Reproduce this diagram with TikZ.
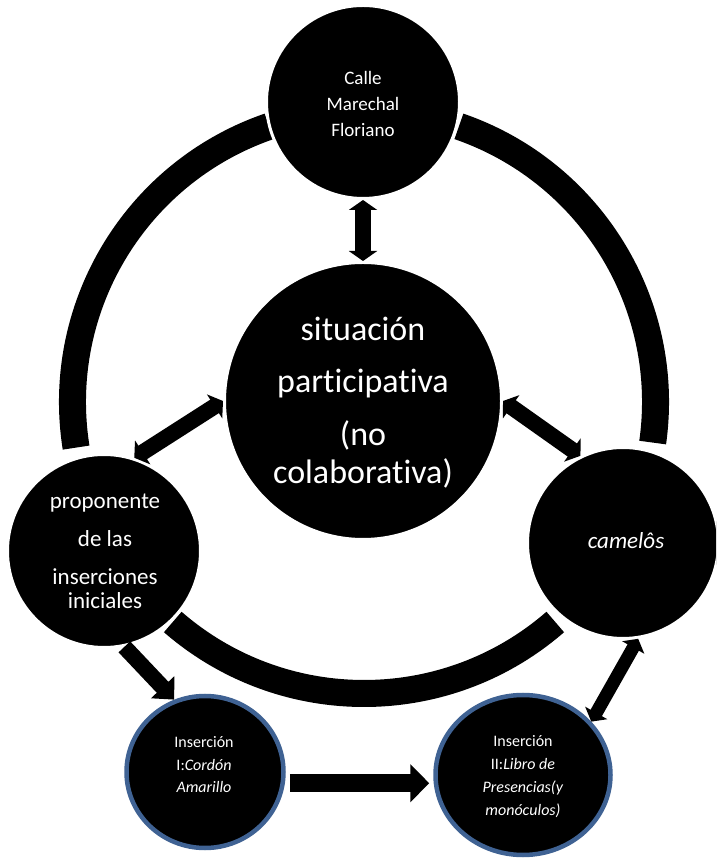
\documentclass[tikz,border=0pt]{standalone}
\usepackage{fontspec}
\setmainfont{Carlito}[Ligatures=NoCommon]
\usetikzlibrary{arrows.meta,shapes.geometric}
\definecolor{bluebd}{RGB}{63,98,147}
\begin{document}
\begin{tikzpicture}[x=1pt,y=1pt,
  blk/.style={circle, fill=black, draw=white, line width=3pt, inner sep=0pt},
  ins/.style={ellipse, fill=black, draw=bluebd, line width=4.5pt, inner sep=0pt},
  lbl/.style={text=white, align=center, inner sep=0pt},
  ringseg/.style={line width=27pt, draw=black},
  dbl/.style={draw=black, line width=16pt, {Triangle[length=10pt,width=28pt]}-{Triangle[length=10pt,width=28pt]}},
  dblthin/.style={draw=black, line width=13pt, {Triangle[length=10pt,width=25pt]}-{Triangle[length=10pt,width=25pt]}},
  single/.style={draw=black, line width=16pt, -{Triangle[length=17pt,width=31pt]}},
  blockarrow/.style={draw=black, line width=18pt, -{Triangle[length=19pt,width=37pt]}}
]
\fill[white] (0,0) rectangle (716,864);
\useasboundingbox (0,0) rectangle (716,864);
\clip (0,0) rectangle (716,864);

% big ring
\coordinate (ringc) at (364,462);
\draw[ringseg] ([shift={(109:291.5)}]ringc) arc[start angle=109, end angle=189, radius=291.5];
\draw[ringseg] ([shift={(-8:291.5)}]ringc) arc[start angle=-8, end angle=71, radius=291.5];
\draw[ringseg] ([shift={(229:291.5)}]ringc) arc[start angle=229, end angle=311, radius=291.5];

% circles
\node[blk, minimum size=193pt] (top) at (363,762) {};
\node[blk, minimum size=277pt] (cen) at (363,463) {};
\node[blk, minimum size=193pt] (left) at (104,313) {};
\node[blk, minimum size=191pt] (right) at (623,321) {};
\node[ins, minimum width=157pt, minimum height=152pt] (bl) at (205,92) {};
\node[ins, minimum width=175pt, minimum height=160pt] (br) at (523,89) {};

% texts
\node[lbl, font=\fontsize{19}{26}\selectfont] (ttop) at (363,760) {Calle\\Marechal\\Floriano};
\node[lbl, font=\fontsize{34}{38}\selectfont] (tcen) at (363,461) {situación\\[14pt]participativa\\[15pt](no\\colaborativa)};
\node[lbl, font=\fontsize{23}{24}\selectfont] (tleft) at (105,313) {proponente\\[14pt]de las\\[14pt]inserciones\\iniciales};
\node[lbl, font=\fontsize{23}{28}\selectfont\itshape] (tright) at (626,323) {camelôs};
\node[lbl, font=\fontsize{16}{22.5}\selectfont] (tbl) at (204,99) {Inserción\\I:\textit{Cordón}\\\textit{Amarillo}};
\node[lbl, font=\fontsize{16}{23}\selectfont] (tbr) at (523,87) {Inserción\\II:\textit{Libro de}\\\textit{Presencias(y}\\\textit{monóculos)}};

% arrows
\draw[dbl] (top.south) -- (cen.north);
\draw[dbl] (cen.180) -- (left.72);
\draw[dbl] (cen.0) -- (right.116);
\draw[single] (left.-78) -- (bl.113);
\draw[dblthin] (right.-81) -- (br.38);
\draw[blockarrow] ([xshift=5pt]bl.-8) -- ([xshift=-4pt]bl.-8 -| br.west);
\end{tikzpicture}
\end{document}
